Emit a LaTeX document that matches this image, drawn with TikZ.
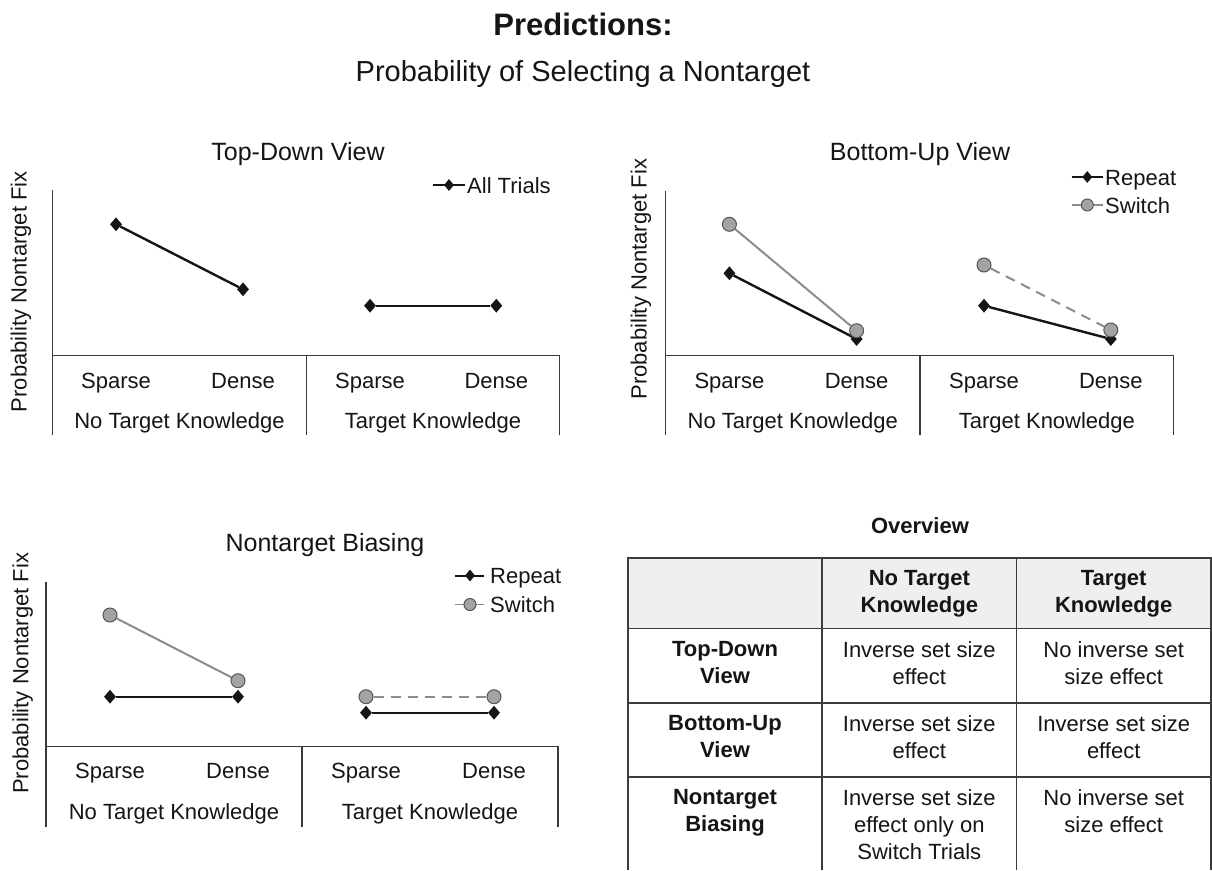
\documentclass[tikz,border=0pt]{standalone}
\usepackage{fontspec}
\setmainfont{Liberation Sans}
\usetikzlibrary{shapes.geometric}
\definecolor{ink}{HTML}{151515}
\definecolor{axisc}{HTML}{3A3A3A}
\definecolor{swline}{HTML}{8C8C8C}
\definecolor{swfill}{HTML}{A3A3A3}
\definecolor{swdraw}{HTML}{555555}
\definecolor{hdrfill}{HTML}{EFEFEF}
\definecolor{gridc}{HTML}{3C3C3C}
\tikzset{
  txt/.style={font=\fontsize{22}{27}\selectfont, text=ink, inner sep=0pt},
  lab/.style={txt, anchor=base},
  leg/.style={txt, anchor=base west},
  btxt/.style={font=\fontsize{22}{27}\selectfont\bfseries, text=ink, inner sep=0pt},
  ctitle/.style={font=\fontsize{25}{30}\selectfont, text=ink, inner sep=0pt, anchor=base},
  axisline/.style={draw=axisc, line width=1.3pt},
  rep/.style={draw=ink, line width=2.4pt},
  swsolid/.style={draw=swline, line width=2pt},
  swdash/.style={draw=swline, line width=2pt, dash pattern=on 10pt off 7pt},
  dmark/.style={diamond, fill=ink, inner sep=0pt, minimum width=12pt, minimum height=14pt},
  cmark/.style={circle, fill=swfill, draw=swdraw, line width=1pt, inner sep=0pt, minimum size=14pt},
  dmarks/.style={dmark, minimum width=10pt, minimum height=12pt},
  cmarks/.style={cmark, minimum size=12pt},
  gridline/.style={draw=gridc, line width=1.7pt},
}
\begin{document}
\begin{tikzpicture}[x=1pt, y=-1pt]
\useasboundingbox (0,0) rectangle (1212,870);
\fill[white] (0,0) rectangle (1212,870);

% ---------- main titles ----------
\node[anchor=base, inner sep=0pt, text=ink, font=\fontsize{31}{36}\selectfont\bfseries] (maintitle) at (583,35) {Predictions:};
\node[anchor=base, inner sep=0pt, text=ink, font=\fontsize{29}{34}\selectfont] (subtitle) at (583,81.5) {Probability of Selecting a Nontarget};

% ================= Chart 1: Top-Down View =================
\draw[axisline] (52.5,190) -- (52.5,435);
\draw[axisline] (52.5,355.3) -- (559.6,355.3) -- (559.6,435);
\draw[axisline] (306.5,355.3) -- (306.5,435);
\node[ctitle] (t1) at (298,160) {Top-Down View};
\node[txt, rotate=90] (y1) at (21,291.7) {Probability Nontarget Fix};
\node[lab] (c1a) at (116,388) {Sparse};
\node[lab] (c1b) at (243,388) {Dense};
\node[lab] (c1c) at (370,388) {Sparse};
\node[lab] (c1d) at (496.3,388) {Dense};
\node[lab] (g1a) at (179.5,428.5) {No Target Knowledge};
\node[lab] (g1b) at (433,428.5) {Target Knowledge};
\node[dmark] (a1) at (116,224.3) {};
\node[dmark] (a2) at (243,289.3) {};
\node[dmark] (a3) at (370,305.7) {};
\node[dmark] (a4) at (496.3,305.7) {};
\draw[rep] (a1) -- (a2);
\draw[rep] (a3) -- (a4);
% legend
\coordinate (l1a) at (433,185);
\coordinate (l1b) at (465,185);
\draw[rep, line width=2pt] (l1a) -- (l1b);
\node[dmarks] (l1m) at (449,185) {};
\node[leg] (l1t) at (467,193) {All Trials};

% ================= Chart 2: Bottom-Up View =================
\draw[axisline] (665.6,191) -- (665.6,435);
\draw[axisline] (665.6,355.3) -- (1173.8,355.3) -- (1173.8,435);
\draw[axisline] (920,355.3) -- (920,435);
\node[ctitle] (t2) at (920,160) {Bottom-Up View};
\node[txt, rotate=90] (y2) at (641,279.2) {Probability Nontarget Fix};
\node[lab] (c2a) at (729.4,388) {Sparse};
\node[lab] (c2b) at (856.6,388) {Dense};
\node[lab] (c2c) at (984,388) {Sparse};
\node[lab] (c2d) at (1110.8,388) {Dense};
\node[lab] (g2a) at (792.8,428.5) {No Target Knowledge};
\node[lab] (g2b) at (1046.9,428.5) {Target Knowledge};
\node[dmark] (r21) at (729.4,273.3) {};
\node[dmark] (r22) at (856.6,339) {};
\node[dmark] (r23) at (984,305.7) {};
\node[dmark] (r24) at (1110.8,339) {};
\draw[rep] (r21) -- (r22);
\draw[rep] (r23) -- (r24);
\node[cmark] (s21) at (729.4,224.3) {};
\node[cmark] (s22) at (856.6,330.7) {};
\node[cmark] (s23) at (984,265) {};
\node[cmark] (s24) at (1110.8,330) {};
\draw[swsolid] (s21) -- (s22);
\draw[swdash] (s23) -- (s24);
% legend
\coordinate (l2ra) at (1071.7,177);
\coordinate (l2rb) at (1103.3,177);
\draw[rep, line width=2pt] (l2ra) -- (l2rb);
\node[dmarks] (l2rm) at (1087.3,177) {};
\node[leg] (l2rt) at (1105,185) {Repeat};
\coordinate (l2sa) at (1071.7,205);
\coordinate (l2sb) at (1103.3,205);
\draw[swsolid, line width=1.6pt] (l2sa) -- (l2sb);
\node[cmarks] (l2sm) at (1087.3,205) {};
\node[leg] (l2st) at (1105,213) {Switch};

% ================= Chart 3: Nontarget Biasing =================
\draw[axisline] (46,581.7) -- (46,826.7);
\draw[axisline] (46,746.7) -- (558,746.7) -- (558,826.7);
\draw[axisline] (302,746.7) -- (302,826.7);
\node[ctitle] (t3) at (325,551) {Nontarget Biasing};
\node[txt, rotate=90] (y3) at (22.7,673.3) {Probability Nontarget Fix};
\node[lab] (c3a) at (110,778) {Sparse};
\node[lab] (c3b) at (238,778) {Dense};
\node[lab] (c3c) at (366,778) {Sparse};
\node[lab] (c3d) at (494,778) {Dense};
\node[lab] (g3a) at (174,819) {No Target Knowledge};
\node[lab] (g3b) at (430,819) {Target Knowledge};
\node[dmark] (r31) at (110,696.7) {};
\node[dmark] (r32) at (238,696.7) {};
\node[dmark] (r33) at (366,712.7) {};
\node[dmark] (r34) at (494,712.7) {};
\draw[rep] (r31) -- (r32);
\draw[rep] (r33) -- (r34);
\node[cmark] (s31) at (110,615) {};
\node[cmark] (s32) at (238,680.7) {};
\node[cmark] (s33) at (366,696.7) {};
\node[cmark] (s34) at (494,696.7) {};
\draw[swsolid] (s31) -- (s32);
\draw[swdash] (s33) -- (s34);
% legend
\coordinate (l3ra) at (455,575.5);
\coordinate (l3rb) at (484,575.5);
\draw[rep, line width=2pt] (l3ra) -- (l3rb);
\node[dmarks] (l3rm) at (470,575.5) {};
\node[leg] (l3rt) at (490,583.5) {Repeat};
\coordinate (l3sa) at (455,604.5);
\coordinate (l3sb) at (484,604.5);
\draw[swsolid, line width=1.6pt] (l3sa) -- (l3sb);
\node[cmarks] (l3sm) at (470,604.5) {};
\node[leg] (l3st) at (490,612.5) {Switch};

% ================= Overview table =================
\node[btxt, anchor=base] (ovt) at (920,533) {Overview};
\fill[hdrfill] (628,558.3) rectangle (1210.8,628.5);
\draw[gridline] (628,870) -- (628,558.3) -- (1210.8,558.3) -- (1210.8,870);
\draw[gridline] (822,558.3) -- (822,870);
\draw[gridline] (1016.5,558.3) -- (1016.5,870);
\draw[gridline] (628,628.5) -- (1210.8,628.5);
\draw[gridline] (628,702.7) -- (1210.8,702.7);
\draw[gridline] (628,776.7) -- (1210.8,776.7);
% header
\node[btxt, align=center] (h2) at (919.3,594) {No Target\\Knowledge};
\node[btxt, align=center] (h3) at (1113.7,594) {Target\\Knowledge};
% row 1
\node[btxt, align=center, anchor=north] (r1c1) at (725,641) {Top-Down\\View};
\node[txt, align=center, anchor=north] (r1c2) at (919.3,641) {Inverse set size\\effect};
\node[txt, align=center, anchor=north] (r1c3) at (1113.7,641) {No inverse set\\size effect};
% row 2
\node[btxt, align=center, anchor=north] (r2c1) at (725,715) {Bottom-Up\\View};
\node[txt, align=center, anchor=north] (r2c2) at (919.3,715) {Inverse set size\\effect};
\node[txt, align=center, anchor=north] (r2c3) at (1113.7,715) {Inverse set size\\effect};
% row 3
\node[btxt, align=center, anchor=north] (r3c1) at (725,789) {Nontarget\\Biasing};
\node[txt, align=center, anchor=north] (r3c2) at (919.3,789) {Inverse set size\\effect only on\\Switch Trials};
\node[txt, align=center, anchor=north] (r3c3) at (1113.7,789) {No inverse set\\size effect};
\end{tikzpicture}
\end{document}
